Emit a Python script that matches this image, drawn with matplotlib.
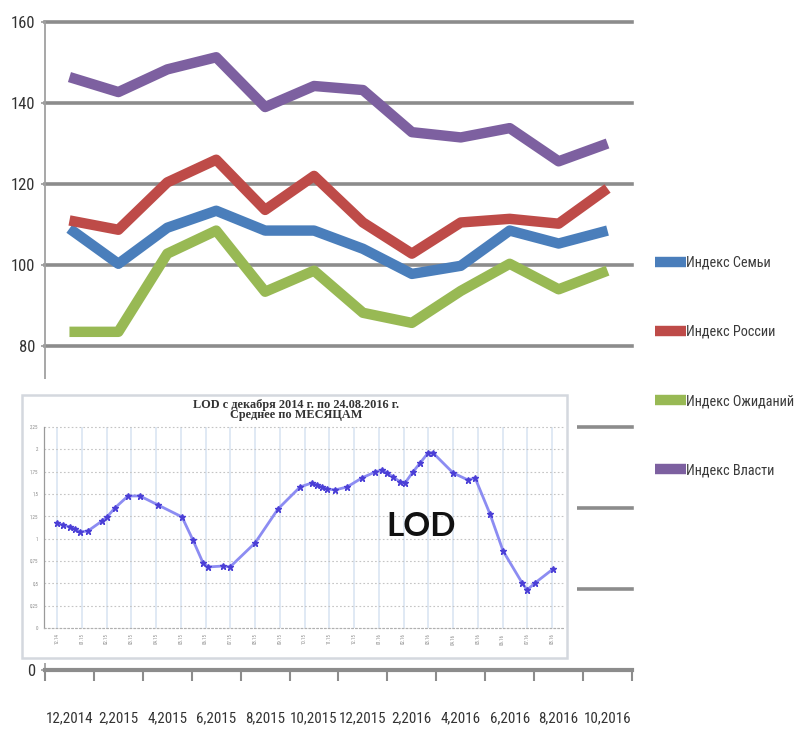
import numpy as np
import matplotlib
matplotlib.use('Agg')
import matplotlib.pyplot as plt
from matplotlib.patches import Rectangle
from matplotlib import font_manager

W, H = 796, 731

# ---------------- data ----------------
categories = ['12,2014', '2,2015', '4,2015', '6,2015', '8,2015', '10,2015',
              '12,2015', '2,2016', '4,2016', '6,2016', '8,2016', '10,2016']
semya = [109.0, 100.3, 109.2, 113.4, 108.5, 108.5, 104.0, 97.8, 99.8, 108.5, 105.3, 108.5]
rossii = [111.0, 108.7, 120.4, 126.0, 113.6, 122.0, 110.5, 102.8, 110.5, 111.4, 110.2, 118.9]
ozhidaniy = [83.5, 83.5, 102.8, 108.5, 93.4, 98.6, 88.2, 85.7, 93.6, 100.3, 94.0, 98.6]
vlasti = [146.4, 142.7, 148.3, 151.3, 139.0, 144.2, 143.2, 132.8, 131.5, 133.8, 125.6, 130.0]
series_names = ['Индекс Семьи', 'Индекс России', 'Индекс Ожиданий', 'Индекс Власти']
series_colors = ['#4a7ebb', '#be4b48', '#98b954', '#7d60a0']
y_ticks = [0, 20, 40, 60, 80, 100, 120, 140, 160]
y_labels = ['0', '', '', '', '80', '100', '120', '140', '160']   # 20-60 hidden under the pasted picture

# inset LOD chart (month index from Dec 2014, LOD value)
lod_month = [0.0, 0.24, 0.53, 0.73, 0.93, 1.25, 1.82, 2.02, 2.34, 2.87, 3.35, 4.08,
             5.05, 5.49, 5.9, 6.1, 6.71, 6.99, 8.0, 8.93, 9.82, 10.3, 10.5, 10.7,
             10.9, 11.23, 11.72, 12.32, 12.85, 13.13, 13.33, 13.58, 13.86, 14.06,
             14.38, 14.67, 14.99, 15.19, 16.0, 16.6, 16.89, 17.49, 18.02, 18.79,
             18.99, 19.31, 20.04]
lod_value = [1.176, 1.153, 1.131, 1.109, 1.075, 1.086, 1.198, 1.243, 1.344, 1.478,
             1.478, 1.377, 1.243, 0.985, 0.728, 0.683, 0.694, 0.683, 0.952, 1.333,
             1.579, 1.624, 1.60, 1.58, 1.557, 1.545, 1.579, 1.68, 1.747, 1.77, 1.736,
             1.69, 1.635, 1.624, 1.747, 1.848, 1.96, 1.96, 1.736, 1.657, 1.68, 1.277,
             0.862, 0.504, 0.426, 0.504, 0.661]
lod_x_labels = ['12.14', '01.15', '02.15', '03.15', '04.15', '05.15', '06.15', '07.15',
                '08.15', '09.15', '10.15', '11.15', '12.15', '01.16', '02.16', '03.16',
                '04.16', '05.16', '06.16', '07.16', '08.16']
lod_y_ticks = [0, 0.25, 0.5, 0.75, 1.0, 1.25, 1.5, 1.75, 2.0, 2.25]
lod_y_labels = ['0', '0,25', '0,5', '0,75', '1', '1,25', '1,5', '1,75', '2', '2,25']
lod_title = 'LOD с декабря 2014 г. по 24.08.2016 г.\nСреднее по МЕСЯЦАМ'

# ---------------- fonts (prefer a narrow face) ----------------
fl = font_manager.fontManager.ttflist
names = {f.name for f in fl}
FAM, STRETCH = 'Roboto', 'normal'
for cand in ['Liberation Sans Narrow', 'Roboto Condensed', 'Open Sans Condensed',
             'Noto Sans Condensed', 'Arial Narrow']:
    if cand in names:
        FAM = cand
        break
else:
    if any(f.name == 'DejaVu Sans' and 'ondensed' in f.fname for f in fl):
        FAM, STRETCH = 'DejaVu Sans', 'condensed'
plt.rcParams['font.family'] = [FAM, 'DejaVu Sans']
plt.rcParams['font.stretch'] = STRETCH

fig = plt.figure(figsize=(W / 100, H / 100), dpi=100)
fig.patch.set_facecolor('white')

# ---------------- main chart ----------------
ax = fig.add_axes([45 / W, 1 - 670 / H, (632 - 45) / W, (670 - 22) / H])
x = np.arange(len(categories))
for vals, name, col in zip([semya, rossii, ozhidaniy, vlasti], series_names, series_colors):
    ax.plot(x, vals, color=col, lw=7.5, label=name,
            solid_joinstyle='round', solid_capstyle='butt')

ax.set_xlim(-0.5, len(categories) - 0.5)
ax.set_ylim(0, 160)
ax.set_yticks(y_ticks)
ax.set_yticklabels(y_labels)
ax.yaxis.grid(True, color='#8c8c8c', lw=2.6)
ax.set_axisbelow(True)
for gl in ax.get_ygridlines():
    gl.set_clip_on(False)

ax.set_xticks(np.arange(-0.5, len(categories), 1.0))
ax.set_xticklabels([])
ax.set_xticks(x, minor=True)
ax.set_xticklabels(categories, minor=True)
ax.tick_params(axis='x', which='major', length=8, width=1.5, color='#8c8c8c')
ax.tick_params(axis='x', which='minor', length=0, pad=30, labelsize=10.8, labelcolor='#333333')
ax.tick_params(axis='y', length=3, width=1.2, color='#9a9a9a', pad=4,
               labelsize=12, labelcolor='#333333')
for s in ['top', 'right']:
    ax.spines[s].set_visible(False)
ax.spines['left'].set_color('#a0a0a0')
ax.spines['left'].set_linewidth(1.3)
ax.spines['bottom'].set_color('#8c8c8c')
ax.spines['bottom'].set_linewidth(3)

leg = ax.legend(loc='center left', bbox_to_anchor=(655 / W, 1 - 366.5 / H),
                bbox_transform=fig.transFigure, frameon=False, fontsize=10.3,
                handlelength=2.15, handletextpad=0.05, labelspacing=3.85,
                borderpad=0, borderaxespad=0)
for t in leg.get_texts():
    t.set_color('#3a3a3a')

# ---------------- pasted inset picture ----------------
fig.add_artist(Rectangle((10 / W, 1 - 663 / H), (577 - 10) / W, (663 - 379) / H,
                         transform=fig.transFigure, facecolor='white',
                         edgecolor='none', zorder=5))
fig.add_artist(Rectangle((22 / W, 1 - 658 / H), (567 - 22) / W, (658 - 395) / H,
                         transform=fig.transFigure, facecolor='white',
                         edgecolor='#d4d8de', lw=1.8, zorder=5.5))

ax2 = fig.add_axes([44 / W, 1 - 628 / H, (563 - 44) / W, (628 - 427) / H])
ax2.set_zorder(6)
ax2.plot(lod_month, lod_value, color='#8c8cf2', lw=2.0, zorder=3,
         marker='*', ms=4.5, mfc='#4b3fd6', mec='#4b3fd6')
ax2.set_xlim(-0.525, 20.44)
ax2.set_ylim(0, 2.25)
ax2.set_xticks(range(len(lod_x_labels)))
ax2.set_xticklabels(lod_x_labels, rotation=90, fontsize=3.5, color='#8a8a8a')
ax2.set_yticks(lod_y_ticks)
ax2.set_yticklabels(lod_y_labels, fontsize=3.6, color='#8a8a8a')
ax2.tick_params(length=0, pad=4)
ax2.xaxis.grid(True, color='#dde7f3', lw=1.3)
ax2.yaxis.grid(True, color='#c4c4c4', lw=0.8, ls=(0, (1.5, 2)))
for gl in ax2.get_ygridlines():
    gl.set_clip_on(False)
for s in ['top', 'right']:
    ax2.spines[s].set_visible(False)
ax2.spines['left'].set_color('#9a9a9a')
ax2.spines['left'].set_linewidth(0.9)
ax2.spines['bottom'].set_color('#b0b0b0')
ax2.spines['bottom'].set_linewidth(0.8)
ax2.spines['bottom'].set_linestyle((0, (1.5, 2)))

fig.text(296 / W, 1 - 410 / H, lod_title, ha='center', va='center',
         family=['Liberation Serif', 'DejaVu Serif'], fontweight='bold',
         fontsize=8.8, color='#333333', linespacing=0.85, zorder=7)
fig.text(421 / W, 1 - 526 / H, 'LOD', ha='center', va='center',
         family=['Lato', 'DejaVu Sans'], fontweight='bold', fontsize=24,
         color='#111111', zorder=7)

fig.savefig('out.png', dpi=100)
